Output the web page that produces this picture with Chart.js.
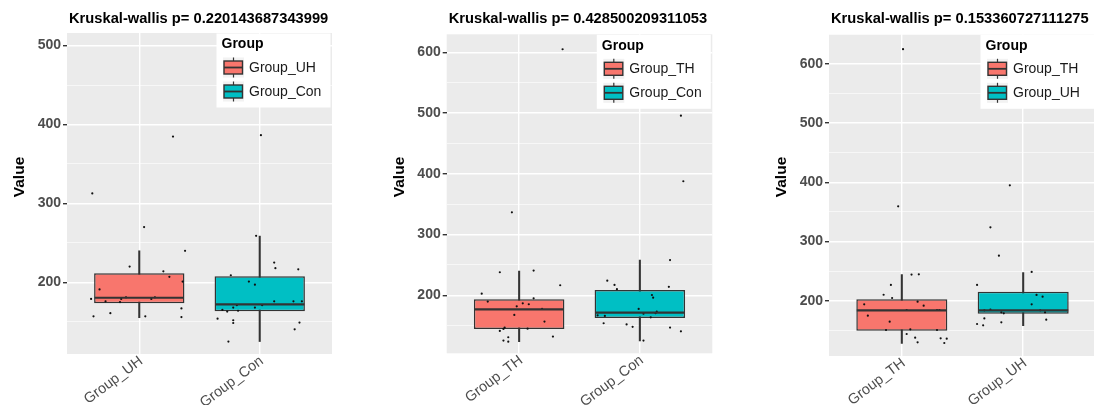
<!DOCTYPE html>
<html>
<head>
<meta charset="utf-8">
<script src="https://cdn.jsdelivr.net/npm/chart.js@4.4.1/dist/chart.umd.min.js"></script>
<style>
html, body { margin: 0; padding: 0; background: #fff; overflow: hidden; width: 1094px; height: 405px; position: relative; }
.panel { position: absolute; top: 0; height: 405px; }
</style>
</head>
<body>
<div class="panel" style="left:0;width:370px"><canvas id="c1" width="370" height="405"></canvas></div>
<div class="panel" style="left:370px;width:360px"><canvas id="c2" width="360" height="405"></canvas></div>
<div class="panel" style="left:730px;width:370px"><canvas id="c3" width="370" height="405"></canvas></div>
<script>
var FONT = '"Liberation Sans", Arial, Helvetica, sans-serif';
var RED = '#F8766D', CYAN = '#00BFC4', LINE = '#333333';

// ---- panel 1 ----
var title1 = 'Kruskal-wallis p= 0.220143687343999';
var groups1 = ['Group_UH', 'Group_Con'];
var lower1 = [155.2, 125];
var q1s1 = [173.4, 163.3];
var med1 = [180.5, 172];
var q3s1 = [211.4, 207.6];
var upper1 = [240, 258.6];
var yRange1 = [109.2, 516];
var valsA1 = [312.7, 384.8, 270, 240, 220, 214, 207, 201, 191, 179, 176, 175, 179, 181, 179, 181, 157, 161, 157, 167, 156];
var jitA1 = [-0.39, 0.28, 0.04, 0.38, -0.08, 0.20, 0.25, 0.36, -0.33, -0.40, -0.28, -0.16, -0.15, -0.11, 0.10, 0.13, -0.38, -0.24, 0.05, 0.35, 0.35];
var valsB1 = [386.5, 259, 225, 218, 216.5, 209, 201, 197, 176, 176, 176, 171, 171, 168, 164, 165, 163, 168, 154, 152, 148.5, 149, 140.5, 125];
var jitB1 = [0.01, -0.03, 0.12, 0.13, 0.32, -0.24, -0.09, -0.04, 0.12, 0.28, 0.35, -0.19, 0.02, -0.22, -0.18, -0.31, -0.27, -0.04, -0.35, -0.22, -0.22, 0.33, 0.29, -0.26];

// ---- panel 2 ----
var title2 = 'Kruskal-wallis p= 0.428500209311053';
var groups2 = ['Group_TH', 'Group_Con'];
var lower2 = [123.7, 124.8];
var q1s2 = [144.5, 162.7];
var med2 = [176.9, 171.5];
var q3s2 = [193.4, 208.8];
var upper2 = [240, 258];
var yRange2 = [104.5, 629.6];
var valsA2 = [605, 336.6, 237.9, 240.6, 216.5, 202.7, 189.6, 181.9, 186.8, 185.2, 195, 177.5, 167.6, 156.7, 146.8, 144.6, 145, 141.3, 132, 125.4, 123.7, 130.9];
var jitA2 = [0.36, -0.06, -0.16, 0.12, 0.34, -0.31, -0.26, -0.02, 0.03, 0.08, 0.12, 0.19, -0.04, 0.21, -0.12, -0.13, 0.07, -0.16, 0.28, -0.13, -0.09, -0.09];
var valsB2 = [495.7, 387.7, 258, 224, 217, 210, 214, 200.5, 196, 177.5, 169.8, 173, 170.4, 167, 166, 163.8, 154, 152, 148, 146.8, 140.7, 125.4];
var jitB2 = [0.34, 0.36, 0.25, -0.27, -0.21, -0.19, 0.24, 0.10, 0.11, -0.01, 0.03, 0.14, 0.13, -0.35, -0.29, 0.09, -0.30, -0.11, -0.06, 0.25, 0.34, 0.03];

// ---- panel 3 ----
var title3 = 'Kruskal-wallis p= 0.153360727111275';
var groups3 = ['Group_TH', 'Group_UH'];
var lower3 = [127.9, 157.7];
var q1s3 = [149.3, 178];
var med3 = [183.7, 183.7];
var q3s3 = [202.3, 215.2];
var upper3 = [244, 247.3];
var yRange3 = [106.5, 650];
var valsA3 = [624.8, 359.4, 244, 244.5, 226.5, 210, 204.5, 193.8, 198.3, 191.5, 174.6, 184.2, 184.2, 184.2, 164.5, 151.5, 150.4, 150.4, 143.7, 137.5, 136.3, 135.8, 129.6, 128.5];
var jitA3 = [0.01, -0.03, 0.08, 0.14, -0.09, -0.15, -0.08, -0.31, 0.13, 0.18, -0.28, 0.04, 0.29, 0.31, -0.10, 0.07, -0.13, 0.29, 0.04, 0.11, 0.32, 0.37, 0.13, 0.35];
var valsB3 = [394.9, 323.9, 276, 248.5, 226.5, 209.6, 206.8, 193.8, 183.7, 184.8, 180.3, 178.6, 183.7, 180.3, 170, 167.9, 163.4, 160.6, 158.3];
var jitB3 = [-0.11, -0.27, -0.20, 0.07, -0.38, 0.11, 0.16, 0.07, -0.32, -0.27, -0.18, -0.16, 0.14, 0.18, -0.32, 0.19, -0.18, -0.38, -0.33];

function jittered(pos, jit, vals) {
  return vals.map(function (v, i) { return { x: pos + jit[i], y: v }; });
}

// ggplot-like decorations: panel background, medians, legend, titles
var ggDecor = {
  id: 'ggDecor',
  beforeDraw: function (chart) {
    var a = chart.chartArea, ctx = chart.ctx;
    ctx.save();
    ctx.fillStyle = '#EBEBEB';
    ctx.fillRect(a.left, a.top, a.right - a.left, a.bottom - a.top);
    ctx.restore();
  },
  afterDraw: function (chart) {
    var o = chart.options.plugins.ggDecor;
    var a = chart.chartArea, ctx = chart.ctx;
    var yScale = chart.scales.y;
    ctx.save();

    // medians
    var meta = chart.getDatasetMeta(1);
    meta.data.forEach(function (el, i) {
      var p = el.getProps(['x', 'width'], true);
      var y = yScale.getPixelForValue(o.medians[i]);
      ctx.strokeStyle = LINE;
      ctx.lineWidth = 2.2;
      ctx.beginPath();
      ctx.moveTo(p.x - p.width / 2 + 0.5, y);
      ctx.lineTo(p.x + p.width / 2 - 0.5, y);
      ctx.stroke();
    });

    // legend
    var lw = 114, lh = 74;
    var lx = a.right - 1.5 - lw, ly = a.top + 0.5;
    ctx.fillStyle = '#fff';
    ctx.fillRect(lx, ly, lw, lh);
    ctx.fillStyle = '#000';
    ctx.font = 'bold 14px ' + FONT;
    ctx.textBaseline = 'middle';
    ctx.textAlign = 'left';
    ctx.fillText('Group', lx + 5, ly + 11);
    [RED, CYAN].forEach(function (col, i) {
      var kx = lx + 6.5, ky = ly + 24 + i * 24, ks = 21;
      ctx.fillStyle = '#F2F2F2';
      ctx.fillRect(kx, ky, ks, ks - 1);
      ctx.strokeStyle = LINE;
      ctx.lineWidth = 1.2;
      ctx.beginPath();
      ctx.moveTo(kx + ks / 2, ky);
      ctx.lineTo(kx + ks / 2, ky + ks - 1);
      ctx.stroke();
      ctx.fillStyle = col;
      ctx.fillRect(kx + 1, ky + 3.5, ks - 2.5, ks - 8);
      ctx.lineWidth = 1.4;
      ctx.strokeRect(kx + 1, ky + 3.5, ks - 2.5, ks - 8);
      ctx.lineWidth = 1.8;
      ctx.beginPath();
      ctx.moveTo(kx + 1, ky + 3.5 + (ks - 8) / 2);
      ctx.lineTo(kx + ks - 1.5, ky + 3.5 + (ks - 8) / 2);
      ctx.stroke();
      ctx.fillStyle = '#1A1A1A';
      ctx.font = '14px ' + FONT;
      ctx.fillText(o.groups[i], lx + 32.5, ky + 10.5);
    });

    // plot title
    ctx.fillStyle = '#000';
    ctx.font = 'bold 14.7px ' + FONT;
    ctx.textAlign = 'left';
    ctx.fillText(o.title, a.left + 2, 19);

    // y axis title
    ctx.translate(a.left - 47, 177);
    ctx.rotate(-Math.PI / 2);
    ctx.textAlign = 'center';
    ctx.font = 'bold 15.5px ' + FONT;
    ctx.fillText('Value', 0, 0);
    ctx.restore();
  }
};

function makePanel(id, title, groups, lower, q1s, med, q3s, upper, yRange, valsA, jitA, valsB, jitB, box) {
  var pos = [1, 2];
  return new Chart(document.getElementById(id), {
    type: 'scatter',
    data: {
      datasets: [
        {
          type: 'scatter',
          data: jittered(1, jitA, valsA).concat(jittered(2, jitB, valsB)),
          pointRadius: 1.1,
          backgroundColor: '#111',
          borderWidth: 0,
          order: 0
        },
        {
          type: 'bar',
          data: pos.map(function (x, i) { return { x: x, y: [q1s[i], q3s[i]] }; }),
          backgroundColor: [RED, CYAN],
          borderColor: LINE,
          borderWidth: 1.5,
          borderSkipped: false,
          grouped: false,
          barPercentage: 0.75,
          categoryPercentage: 1,
          order: 1
        },
        {
          type: 'bar',
          data: pos.map(function (x, i) { return { x: x, y: [lower[i], upper[i]] }; }),
          backgroundColor: LINE,
          barThickness: 1.4,
          grouped: false,
          order: 2
        }
      ]
    },
    options: {
      responsive: false,
      animation: false,
      layout: { padding: { left: 0, right: box.padRight, top: box.top, bottom: 0 } },
      plugins: {
        legend: { display: false },
        tooltip: { enabled: false },
        ggDecor: { title: title, groups: groups, medians: med }
      },
      scales: {
        x: {
          type: 'linear',
          min: 0.4,
          max: 2.6,
          offset: false,
          afterBuildTicks: function (s) { s.ticks = [{ value: 1 }, { value: 2 }]; },
          afterFit: function (s) { s.height = 405 - box.bottom; },
          ticks: {
            callback: function (v) { return v === 1 ? groups[0] : (v === 2 ? groups[1] : ''); },
            minRotation: 37,
            maxRotation: 37,
            autoSkip: false,
            padding: -4,
            labelOffset: 2,
            color: '#4D4D4D',
            font: { family: FONT, size: 14.5 }
          },
          grid: { color: '#FFFFFF', lineWidth: 1.4, tickColor: 'rgba(0,0,0,0)', tickLength: 2.5, offset: false },
          border: { display: false }
        },
        y: {
          type: 'linear',
          min: yRange[0],
          max: yRange[1],
          afterFit: function (s) { s.width = box.left; },
          ticks: {
            stepSize: 50,
            includeBounds: false,
            autoSkip: false,
            padding: 2,
            callback: function (v) { return v % 100 === 0 ? String(v) : ''; },
            color: '#4D4D4D',
            font: { family: FONT, size: 14, weight: 'bold' }
          },
          grid: {
            color: '#FFFFFF',
            lineWidth: function (c) { return c.tick && c.tick.value % 100 === 0 ? 1.4 : 0.6; },
            tickColor: function (c) { return c.tick && c.tick.value % 100 === 0 ? LINE : 'rgba(0,0,0,0)'; },
            tickLength: 4
          },
          border: { display: false }
        }
      }
    },
    plugins: [ggDecor]
  });
}

makePanel('c1', title1, groups1, lower1, q1s1, med1, q3s1, upper1, yRange1, valsA1, jitA1, valsB1, jitB1,
  { left: 67, padRight: 38, top: 33, bottom: 354 });
makePanel('c2', title2, groups2, lower2, q1s2, med2, q3s2, upper2, yRange2, valsA2, jitA2, valsB2, jitB2,
  { left: 76.7, padRight: 17.7, top: 34.3, bottom: 353.3 });
makePanel('c3', title3, groups3, lower3, q1s3, med3, q3s3, upper3, yRange3, valsA3, jitA3, valsB3, jitB3,
  { left: 99, padRight: 2, top: 34.3, bottom: 356 });
</script>
</body>
</html>
